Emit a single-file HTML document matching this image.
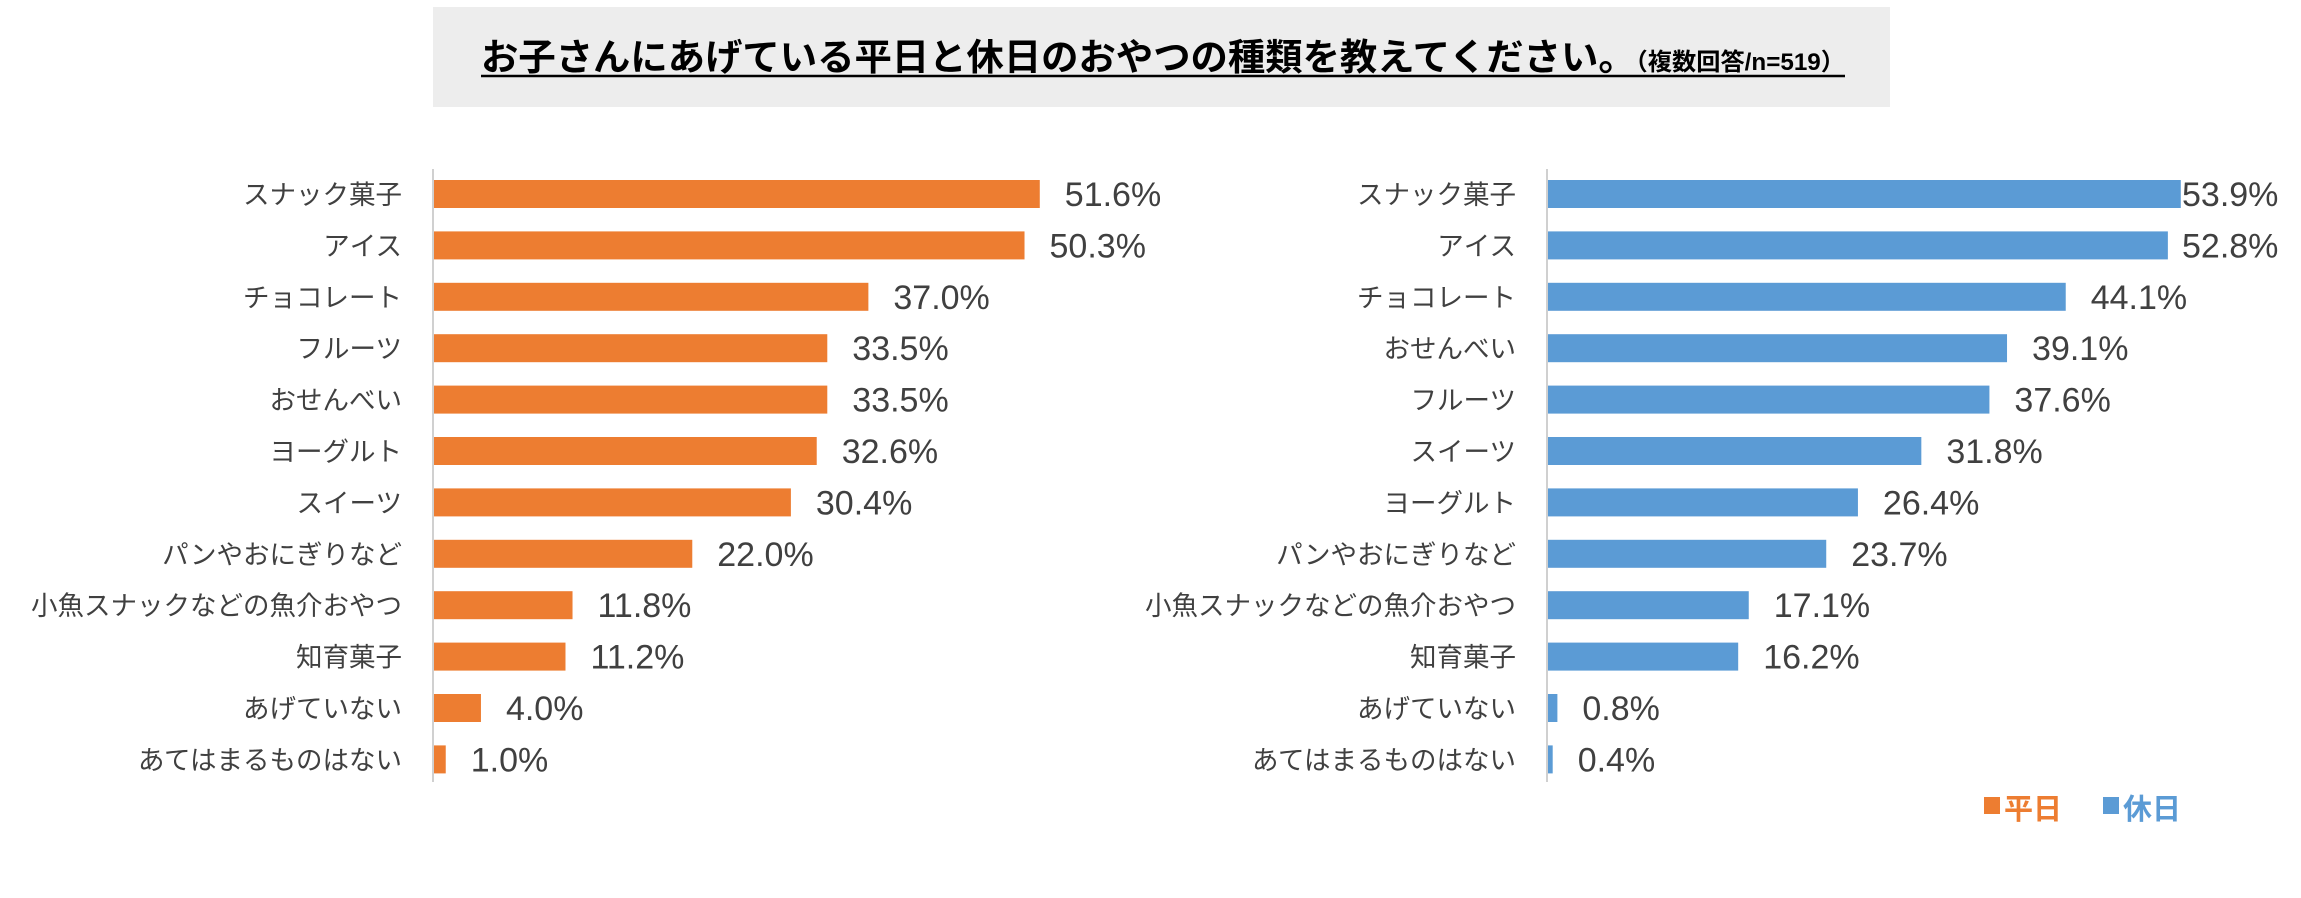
<!DOCTYPE html>
<html><head><meta charset="utf-8"><style>
html,body{margin:0;padding:0;background:#fff;}
svg{display:block;font-family:"Liberation Sans","Noto Sans CJK JP",sans-serif;}
</style></head><body>
<svg id="chart" width="2301" height="898" viewBox="0 0 2301 898" xmlns="http://www.w3.org/2000/svg">
<rect x="433" y="7" width="1457" height="100" fill="#ededed"/>
<text x="481" y="70" textLength="1364" lengthAdjust="spacingAndGlyphs" fill="#000"><tspan font-size="37" font-weight="bold">お子さんにあげている平日と休日のおやつの種類を教えてください。</tspan><tspan font-size="24" font-weight="bold">（複数回答/n=519）</tspan></text>
<line x1="481" y1="76" x2="1845" y2="76" stroke="#000" stroke-width="2.5"/>
<g id="left"></g>
<g id="right"></g>
<g>
<rect x="1984" y="797" width="16" height="17" fill="#ED7D31"/>
<text x="2004" y="819" font-size="29" font-weight="bold" fill="#ED7D31">平日</text>
<rect x="2103" y="797" width="16" height="17" fill="#5B9BD5"/>
<text x="2123" y="819" font-size="29" font-weight="bold" fill="#5B9BD5">休日</text>
</g>
</svg>
<script>
const weekdayCategories = ["スナック菓子","アイス","チョコレート","フルーツ","おせんべい","ヨーグルト","スイーツ","パンやおにぎりなど","小魚スナックなどの魚介おやつ","知育菓子","あげていない","あてはまるものはない"];
const weekdayValues = [51.6,50.3,37.0,33.5,33.5,32.6,30.4,22.0,11.8,11.2,4.0,1.0];
const holidayCategories = ["スナック菓子","アイス","チョコレート","おせんべい","フルーツ","スイーツ","ヨーグルト","パンやおにぎりなど","小魚スナックなどの魚介おやつ","知育菓子","あげていない","あてはまるものはない"];
const holidayValues = [53.9,52.8,44.1,39.1,37.6,31.8,26.4,23.7,17.1,16.2,0.8,0.4];

const NS = "http://www.w3.org/2000/svg";
function mk(tag, attrs){const e=document.createElementNS(NS,tag);for(const k in attrs)e.setAttribute(k,attrs[k]);return e;}
const pxPerPct = 11.74, rowPitch = 51.4, firstCenter = 194, barH = 28;
function yPos(i){return firstCenter + i*rowPitch;}

function draw(gid, axisX, cats, vals, color, maxTextX, prefix){
  const g = document.getElementById(gid);
  const ax = mk("line",{x1:axisX,y1:169,x2:axisX,y2:782,stroke:"#d0d0d0","stroke-width":2});
  
  
  g.appendChild(ax);
  cats.forEach((c,i)=>{
    const y = yPos(i);
    const w = vals[i]*pxPerPct;
    const r = mk("rect",{x:axisX+1,y:y-barH/2,width:w,height:barH,fill:color});
    
    
    g.appendChild(r);
    const lab = mk("text",{x:axisX-31,y:y+10,"text-anchor":"end","font-size":26.5,fill:"#404040"});
    lab.textContent = c;
    
    
    g.appendChild(lab);
    const vx = Math.min(axisX + w + 26, maxTextX);
    const v = mk("text",{x:vx,y:y+12,"font-size":34,fill:"#404040"});
    v.textContent = vals[i].toFixed(1) + "%";
    
    
    g.appendChild(v);
  });
}
draw("left",433,weekdayCategories,weekdayValues,"#ED7D31",9999,"weekday");
draw("right",1547,holidayCategories,holidayValues,"#5B9BD5",2182,"holiday");
</script>
</body></html>
